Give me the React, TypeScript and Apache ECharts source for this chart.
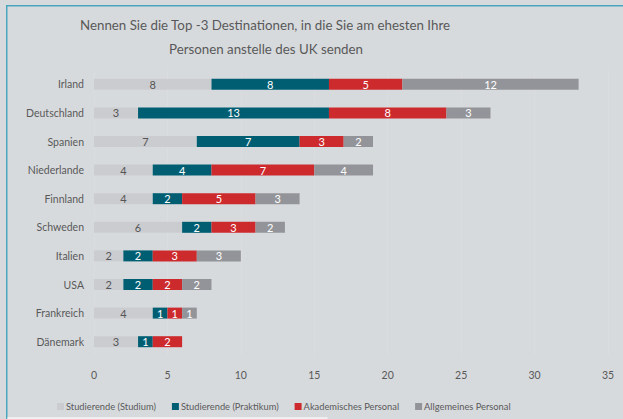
import React, { useEffect, useRef } from "react";
import * as echarts from "echarts";

const categories = ["Irland", "Deutschland", "Spanien", "Niederlande", "Finnland", "Schweden", "Italien", "USA", "Frankreich", "Dänemark"];
const seriesNames = ["Studierende (Studium)", "Studierende (Praktikum)", "Akademisches Personal", "Allgemeines Personal"];
const studium = [8, 3, 7, 4, 4, 6, 2, 2, 4, 3];
const praktikum = [8, 13, 7, 4, 2, 2, 2, 2, 1, 1];
const akademisch = [5, 8, 3, 7, 5, 3, 3, 2, 1, 2];
const allgemein = [12, 3, 2, 4, 3, 2, 3, 2, 1, 0];
const xTicks = [0, 5, 10, 15, 20, 25, 30, 35];
const titleLines = ["Nennen Sie die Top -3 Destinationen, in die Sie am ehesten Ihre", "Personen anstelle des UK senden"];

const colors = ["#cbccd0", "#005e72", "#cc2a2d", "#939499"];
const labelColors = ["#555555", "#ffffff", "#ffffff", "#ffffff"];
const FONT = "Lato";

export default function App() {
  const ref = useRef<HTMLDivElement>(null);
  useEffect(() => {
    if (!ref.current) return;
    const chart = echarts.init(ref.current, null, { renderer: "svg" });
    const data = [studium, praktikum, akademisch, allgemein];
    chart.setOption({
      animation: false,
      backgroundColor: "#d7dadd",
      textStyle: { fontFamily: FONT },
      graphic: [
        { type: "rect", shape: { x: 6, y: 5, width: 617, height: 1.5 }, style: { fill: "#4aa6bf" } },
        { type: "rect", shape: { x: 6, y: 5, width: 1.5, height: 414 }, style: { fill: "#4aa6bf" } },
        { type: "rect", shape: { x: 7.5, y: 417, width: 320, height: 2 }, style: { fill: "#eeeff0" } },
        {
          type: "text", x: 265, y: 25,
          style: { text: titleLines[0], fontFamily: FONT, fontSize: 13.3, fill: "#595959", align: "center", verticalAlign: "middle" },
        },
        {
          type: "text", x: 266, y: 49,
          style: { text: titleLines[1], fontFamily: FONT, fontSize: 13.3, fill: "#595959", align: "center", verticalAlign: "middle" },
        },
      ],
      legend: {
        top: 397,
        left: 52,
        itemWidth: 7,
        itemHeight: 7,
        itemGap: 16,
        icon: "rect",
        textStyle: { fontFamily: FONT, fontSize: 9.3, color: "#595959", padding: [0, 0, 0, -3] },
        data: seriesNames,
      },
      grid: { left: 94, right: 15, top: 70, bottom: 63 },
      xAxis: {
        type: "value",
        min: 0,
        max: 35,
        interval: 5,
        axisLine: { show: false },
        axisTick: { show: false },
        axisLabel: { color: "#595959", fontSize: 10.5, fontFamily: FONT, margin: 13,
          formatter: (v: number) => (xTicks.includes(v) ? String(v) : "") },
        splitLine: { show: true, lineStyle: { color: "#dadcdf", width: 1 } },
      },
      yAxis: {
        type: "category",
        inverse: true,
        data: categories,
        axisLine: { show: false },
        axisTick: { show: false },
        axisLabel: { color: "#595959", fontSize: 10.5, fontFamily: FONT, margin: 10 },
      },
      series: seriesNames.map((name, i) => ({
        name,
        type: "bar",
        stack: "total",
        barWidth: 11,
        itemStyle: { color: colors[i] },
        label: {
          show: true,
          position: "inside",
          color: labelColors[i],
          fontSize: 11,
          fontFamily: FONT,
          formatter: (p: any) => (p.value ? String(p.value) : ""),
        },
        data: data[i],
      })),
    });
    return () => chart.dispose();
  }, []);
  return <div ref={ref} style={{ width: 623, height: 419, position: "absolute", left: 0, top: 0 }} />;
}
